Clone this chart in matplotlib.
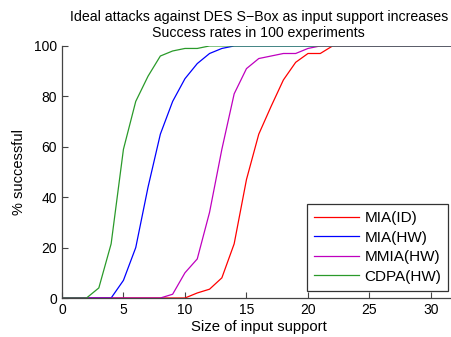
import numpy as np
import matplotlib.pyplot as plt

plt.rcParams['font.family'] = ['Liberation Sans', 'DejaVu Sans']

support = list(range(0, 33))
mia_id = [0, 0, 0, 0, 0, 0, 0, 0, 0, 0, 0, 2, 3.5, 8, 21.5, 47, 65, 76, 86.5, 93.5, 97, 97] + [100] * 11
mia_hw = [0, 0, 0, 0, 0, 7, 20, 44, 65, 78, 87, 93, 97, 99] + [100] * 19
mmia_hw = [0, 0, 0, 0, 0, 0, 0, 0, 0, 1.5, 10, 15.5, 34, 59, 81, 91, 95, 96, 97, 97, 99] + [100] * 12
cdpa_hw = [0, 0, 0, 4, 21.5, 59, 78, 88, 96, 98, 99, 99] + [100] * 21

fig = plt.figure(figsize=(4.52, 3.37), dpi=100)
ax = fig.add_axes([0.137, 0.1157, 0.871, 0.748])

ax.plot(support, mia_id, color='#ff0000', lw=0.9, label='MIA(ID)')
ax.plot(support, mia_hw, color='#0000ff', lw=0.9, label='MIA(HW)')
ax.plot(support, mmia_hw, color='#bf00bf', lw=0.9, label='MMIA(HW)')
ax.plot(support, cdpa_hw, color='#2a9a2a', lw=0.9, label='CDPA(HW)')

ax.set_xlim(0, 32)
ax.set_ylim(0, 100)
ax.set_xticks([0, 5, 10, 15, 20, 25, 30])
ax.set_yticks([0, 20, 40, 60, 80, 100])
ax.tick_params(direction='in', length=4, width=0.8, color='#444444', labelsize=10)
for side in ['top', 'right']:
    ax.spines[side].set_visible(False)
for side in ['left', 'bottom']:
    ax.spines[side].set_color('#444444')
    ax.spines[side].set_linewidth(0.9)

ax.set_xlabel('Size of input support', fontsize=10.7, labelpad=2)
ax.set_ylabel('% successful', fontsize=10.5, labelpad=6)
ax.set_title('Ideal attacks against DES S\u2212Box as input support increases\nSuccess rates in 100 experiments',
             fontsize=10.2, linespacing=1.15, pad=6.5)

leg = ax.legend(loc='lower right', bbox_to_anchor=(0.981, 0.029), borderaxespad=0,
                fontsize=11, frameon=True, fancybox=False, handlelength=2.95,
                labelspacing=0.36, borderpad=0.45, handletextpad=0.35)
leg.get_frame().set_edgecolor('black')
leg.get_frame().set_linewidth(0.9)

fig.savefig('out.png', dpi=100)
